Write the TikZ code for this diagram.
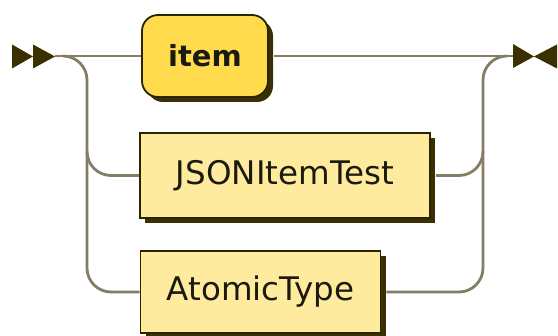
\documentclass[tikz,border=0pt]{standalone}
\usepackage{fontspec}
\setmainfont{DejaVu Sans}
\usetikzlibrary{shadows}
\definecolor{termfill}{HTML}{FFDB4D}
\definecolor{ntfill}{HTML}{FFEB9E}
\definecolor{boxline}{HTML}{2A2400}
\definecolor{shadowc}{HTML}{3A2F05}
\definecolor{railc}{HTML}{857E66}
\definecolor{arrowc}{HTML}{3A3000}
\definecolor{textc}{HTML}{1A1A10}
\tikzset{
  rail/.style={draw=railc, line width=2.8pt, rounded corners=24pt},
  boxbase/.style={draw=boxline, line width=1.8pt, inner sep=0pt, text=textc,
    general shadow={fill=shadowc, shadow xshift=5pt, shadow yshift=-5pt}},
  termbox/.style={boxbase, fill=termfill, rounded corners=16pt,
    font=\fontsize{29}{34}\selectfont\bfseries},
  ntbox/.style={boxbase, fill=ntfill,
    font=\fontsize{32.5}{38}\selectfont},
  marker/.style={fill=arrowc, draw=none}
}
\begin{document}
\begin{tikzpicture}[x=1pt,y=-1pt]
\useasboundingbox (0,0) rectangle (558,336);
% nodes
\node[termbox, minimum width=126pt, minimum height=82pt] (item) at (205,56) {item};
\node[ntbox, minimum width=290pt, minimum height=85pt] (json) at (285,175.5) {JSONItemTest};
\node[ntbox, minimum width=240pt, minimum height=82pt] (atomic) at (260.5,292) {AtomicType};
\coordinate (start) at (55,56);
\coordinate (end) at (513,56);
\coordinate (lsplit) at (63,56);
\coordinate (ljson) at (87,151);
\coordinate (rjson) at (483,151);
% rails
\draw[rail] (start) -- (item.west);
\draw[rail] ([xshift=5pt]item.east) -- (end);
\draw[rail] (lsplit) -| (87,200) |- (atomic.west);
\draw[rail] (ljson) |- (json.west);
\draw[rail] ([xshift=5pt]json.east) -| (rjson);
\draw[rail] ([xshift=5pt]atomic.east) -| (483,200) |- ([xshift=-6pt]end);
% markers
\fill[marker] (12,44.5) -- (12,68.5) -- (33,56.5) -- cycle;
\fill[marker] (33,44.5) -- (33,68.5) -- (55,56.5) -- cycle;
\fill[marker] (end) ++(0,-12) -- ++(0,24) -- (534,56.5) -- cycle;
\fill[marker] (557,44.5) -- (557,68.5) -- (534,56.5) -- cycle;
\end{tikzpicture}
\end{document}
